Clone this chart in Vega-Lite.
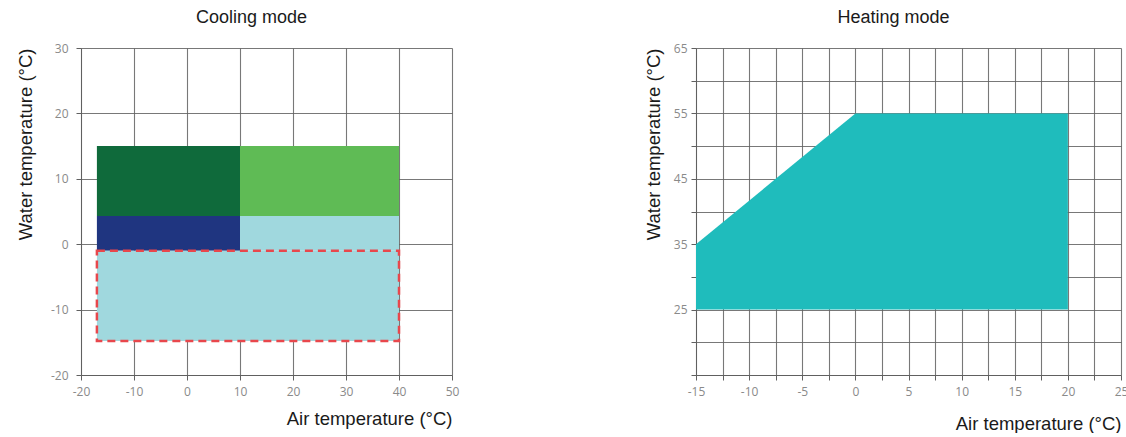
{
  "$schema": "https://vega.github.io/schema/vega-lite/v6.json",
  "padding": {"left": 16, "top": 9, "right": 0, "bottom": 0},
  "background": "white",
  "spacing": 185,
  "config": {
    "view": {"stroke": null},
    "font": "Liberation Sans",
    "axis": {
      "zindex": 1,
      "grid": true,
      "gridColor": "#606060",
      "gridOpacity": 0.85,
      "gridWidth": 1.1,
      "domainColor": "#606060",
      "tickColor": "#606060",
      "tickSize": 5,
      "labelColor": "#8a8a8a",
      "labelFont": "Open Sans",
      "labelFontSize": 12,
      "labelFlush": false,
      "labelOverlap": false,
      "titleFont": "Liberation Sans",
      "titleFontSize": 18.5,
      "titleFontWeight": "normal",
      "titleColor": "#1a1a1a",
      "titleAnchor": "end"
    },
    "axisX": {"labelPadding": 6},
    "title": {"font": "Liberation Sans", "fontSize": 18, "fontWeight": "normal", "color": "#1a1a1a", "frame": "group", "anchor": "middle"}
  },
  "hconcat": [
    {
      "width": 371,
      "height": 327,
      "title": {"text": "Cooling mode", "dx": -15, "offset": 15},
      "layer": [
        {
          "data": {"values": [
            {"zone": "dark green", "x1": -17, "x2": 10, "y1": 4.3, "y2": 15},
            {"zone": "navy", "x1": -17, "x2": 10, "y1": -1, "y2": 4.3},
            {"zone": "light green", "x1": 10, "x2": 40, "y1": 4.3, "y2": 15},
            {"zone": "light blue", "x1": 10, "x2": 40, "y1": -1, "y2": 4.3},
            {"zone": "light blue", "x1": -17, "x2": 40, "y1": -14.8, "y2": -1}
          ]},
          "mark": {"type": "rect"},
          "encoding": {
            "x": {"field": "x1", "type": "quantitative",
              "scale": {"domain": [-20, 50], "nice": false, "zero": false},
              "axis": {"values": [-20, -15, -10, -5, 0, 5, 10, 15, 20, 25, 30, 35, 40, 45, 50],
                "labelExpr": "datum.value % 10 === 0 ? '' + datum.value : ''",
                "title": "Air temperature (°C)", "titlePadding": 12}},
            "x2": {"field": "x2"},
            "y": {"field": "y1", "type": "quantitative",
              "scale": {"domain": [-20, 30], "nice": false, "zero": false},
              "axis": {"values": [-20, -15, -10, -5, 0, 5, 10, 15, 20, 25, 30],
                "labelExpr": "datum.value % 10 === 0 ? '' + datum.value : ''",
                "labelPadding": 8,
                "title": "Water temperature (°C)", "titlePadding": 15}},
            "y2": {"field": "y2"},
            "color": {"field": "zone", "type": "nominal",
              "scale": {"domain": ["dark green", "navy", "light green", "light blue"],
                "range": ["#0f6a3b", "#1f3580", "#5fbb55", "#a0d8de"]},
              "legend": null}
          }
        },
        {
          "data": {"values": [{"x1": -17, "x2": 40, "y1": -14.8, "y2": -1}]},
          "mark": {"type": "rect", "fillOpacity": 0, "stroke": "#e8474c", "strokeWidth": 2.5, "strokeDash": [8, 5]},
          "encoding": {
            "x": {"field": "x1", "type": "quantitative"},
            "x2": {"field": "x2"},
            "y": {"field": "y1", "type": "quantitative"},
            "y2": {"field": "y2"}
          }
        }
      ]
    },
    {
      "width": 425,
      "height": 327,
      "title": {"text": "Heating mode", "dx": -15, "offset": 15},
      "data": {"values": [
        {"air": -15, "top": 35, "bottom": 25},
        {"air": 0, "top": 55, "bottom": 25},
        {"air": 20, "top": 55, "bottom": 25}
      ]},
      "mark": {"type": "area", "color": "#1fbcbc", "opacity": 1},
      "encoding": {
        "x": {"field": "air", "type": "quantitative",
          "scale": {"domain": [-15, 25], "nice": false, "zero": false},
          "axis": {"values": [-15, -12.5, -10, -7.5, -5, -2.5, 0, 2.5, 5, 7.5, 10, 12.5, 15, 17.5, 20, 22.5, 25],
            "labelExpr": "datum.value % 5 === 0 ? '' + datum.value : ''",
            "title": "Air temperature (°C)", "titlePadding": 17}},
        "y": {"field": "top", "type": "quantitative",
          "scale": {"domain": [15, 65], "nice": false, "zero": false},
          "axis": {"values": [15, 20, 25, 30, 35, 40, 45, 50, 55, 60, 65],
            "labelExpr": "(datum.value % 10 === 5 && datum.value > 15) ? '' + datum.value : ''",
            "labelPadding": 4,
            "title": "Water temperature (°C)", "titlePadding": 10}},
        "y2": {"field": "bottom"}
      }
    }
  ]
}
